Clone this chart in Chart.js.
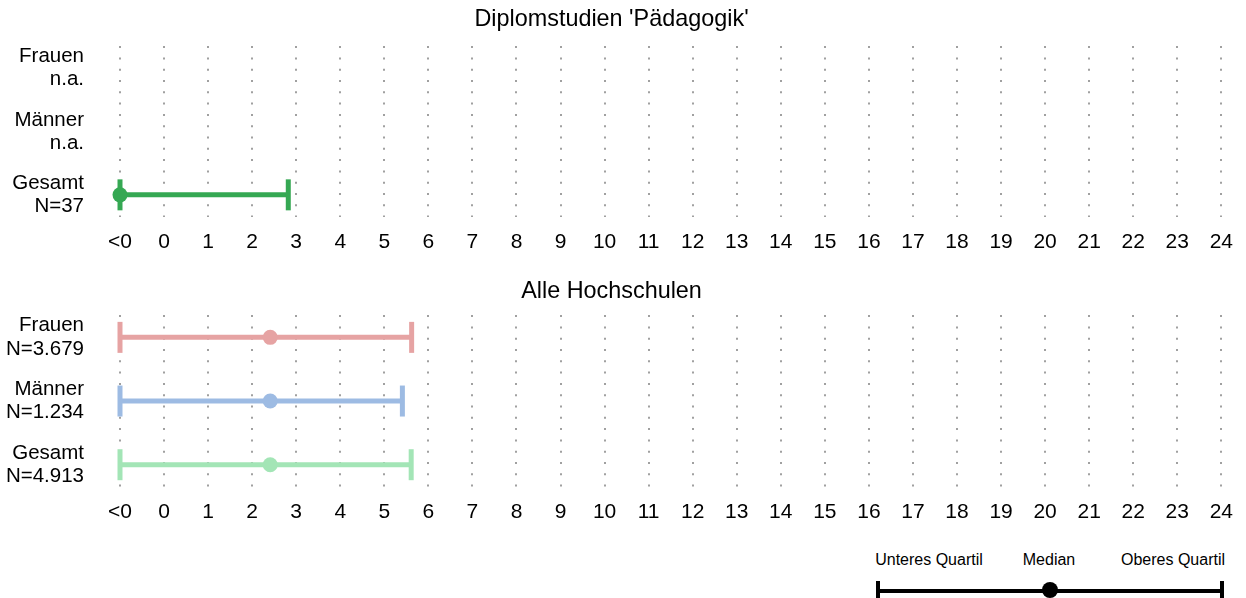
<!DOCTYPE html>
<html>
<head>
<meta charset="utf-8">
<script src="https://cdn.jsdelivr.net/npm/chart.js@4.4.1/dist/chart.umd.min.js"></script>
<style>
html,body{margin:0;padding:0;background:#fff;}
body{width:1246px;height:598px;position:relative;overflow:hidden;font-family:"Liberation Sans",Arial,sans-serif;}
.panel{position:absolute;left:0;width:1246px;height:270px;}
#p1{top:0;}
#p2{top:270px;}
.lt{position:absolute;top:550px;font-size:16px;color:#000;transform:translateX(-50%);white-space:nowrap;line-height:20px;}
#lline{position:absolute;left:878px;width:344px;top:589px;height:4px;background:#000;}
.lcap{position:absolute;top:581px;width:4px;height:22px;background:#000;}
#ldot{position:absolute;left:1042px;top:582px;width:16px;height:16px;border-radius:50%;background:#000;}
</style>
</head>
<body>
<div class="panel" id="p1"><canvas id="c1" width="1246" height="270"></canvas></div>
<div class="panel" id="p2"><canvas id="c2" width="1246" height="270"></canvas></div>
<div id="legend">
  <span class="lt" style="left:929px">Unteres Quartil</span>
  <span class="lt" style="left:1049px">Median</span>
  <span class="lt" style="left:1173px">Oberes Quartil</span>
  <div id="lline"></div>
  <div class="lcap" style="left:876px"></div>
  <div class="lcap" style="left:1220px"></div>
  <div id="ldot"></div>
</div>
<script>
// ---- data ----
const groups = ['Frauen', 'Männer', 'Gesamt'];
const rowValues = [2, 1, 0];
const tickLabels = ['<0','0','1','2','3','4','5','6','7','8','9','10','11','12','13','14','15','16','17','18','19','20','21','22','23','24'];

const titleTop = "Diplomstudien 'Pädagogik'";
const nTop = ['n.a.', 'n.a.', 'N=37'];
const lowerTop = [null, null, -1];
const medianTop = [null, null, -1];
const upperTop = [null, null, 2.82];
const colorsTop = ['#e6a3a3', '#9dbbe3', '#35a853'];

const titleAll = 'Alle Hochschulen';
const nAll = ['N=3.679', 'N=1.234', 'N=4.913'];
const lowerAll = [-1, -1, -1];
const medianAll = [2.41, 2.41, 2.41];
const upperAll = [5.62, 5.41, 5.61];
const colorsAll = ['#e6a3a3', '#9dbbe3', '#a3e5b6'];

Chart.defaults.font.family = '"Liberation Sans", Arial, sans-serif';

function makePanel(id, title, nLabels, lower, median, upper, colors, titlePad) {
  const datasets = [];
  rowValues.forEach((r, i) => {
    if (lower[i] == null) return;
    datasets.push({
      type: 'scatter',
      data: [{x: median[i], y: r}],
      pointStyle: 'circle', pointRadius: 7.5, pointHoverRadius: 7.5,
      pointBackgroundColor: colors[i], backgroundColor: colors[i],
      pointBorderWidth: 0, borderWidth: 0, clip: false, order: 0
    });
    datasets.push({
      type: 'scatter',
      data: [{x: lower[i], y: r}, {x: upper[i], y: r}],
      showLine: true, borderColor: colors[i], borderWidth: 5, borderCapStyle: 'butt',
      pointStyle: 'line', pointRotation: 90, pointRadius: 15.5, pointHoverRadius: 15.5,
      pointBorderWidth: 5, pointBorderColor: colors[i], clip: false, order: 1
    });
  });
  return new Chart(document.getElementById(id), {
    type: 'scatter',
    data: { datasets },
    options: {
      responsive: false, animation: false, events: [],
      layout: { autoPadding: false, padding: { left: 0, right: 23, top: 0, bottom: 1.8 } },
      plugins: {
        legend: { display: false }, tooltip: { enabled: false },
        title: { display: true, text: title, color: '#000',
          font: { size: 23.4, weight: 'normal' }, padding: titlePad }
      },
      scales: {
        x: {
          type: 'linear', position: 'bottom', min: -1, max: 24,
          ticks: { stepSize: 1, autoSkip: false, maxRotation: 0, color: '#000',
            font: { size: 21 }, padding: 13,
            callback: (v) => tickLabels[v + 1] },
          grid: { color: '#a0a0a0', lineWidth: 2, drawTicks: false, tickLength: 0 },
          border: { display: false, dash: [2, 9.3] }
        },
        y: {
          type: 'linear', min: -0.35, max: 2.35,
          afterBuildTicks: (scale) => { scale.ticks = rowValues.slice().sort().map(v => ({ value: v })); },
          afterFit: (scale) => { scale.width = 120; scale.paddingTop = 0; scale.paddingBottom = 0; },
          ticks: { color: '#000', font: { size: 20.5, lineHeight: 1.13 }, padding: 36,
            callback: (v) => { const i = rowValues.indexOf(v); return [groups[i], nLabels[i]]; } },
          grid: { display: false, drawTicks: false, tickLength: 0 },
          border: { display: false }
        }
      }
    }
  });
}

makePanel('c1', titleTop, nTop, lowerTop, medianTop, upperTop, colorsTop, { top: 6, bottom: 12 });
makePanel('c2', titleAll, nAll, lowerAll, medianAll, upperAll, colorsAll, { top: 8, bottom: 9 });
</script>
</body>
</html>
